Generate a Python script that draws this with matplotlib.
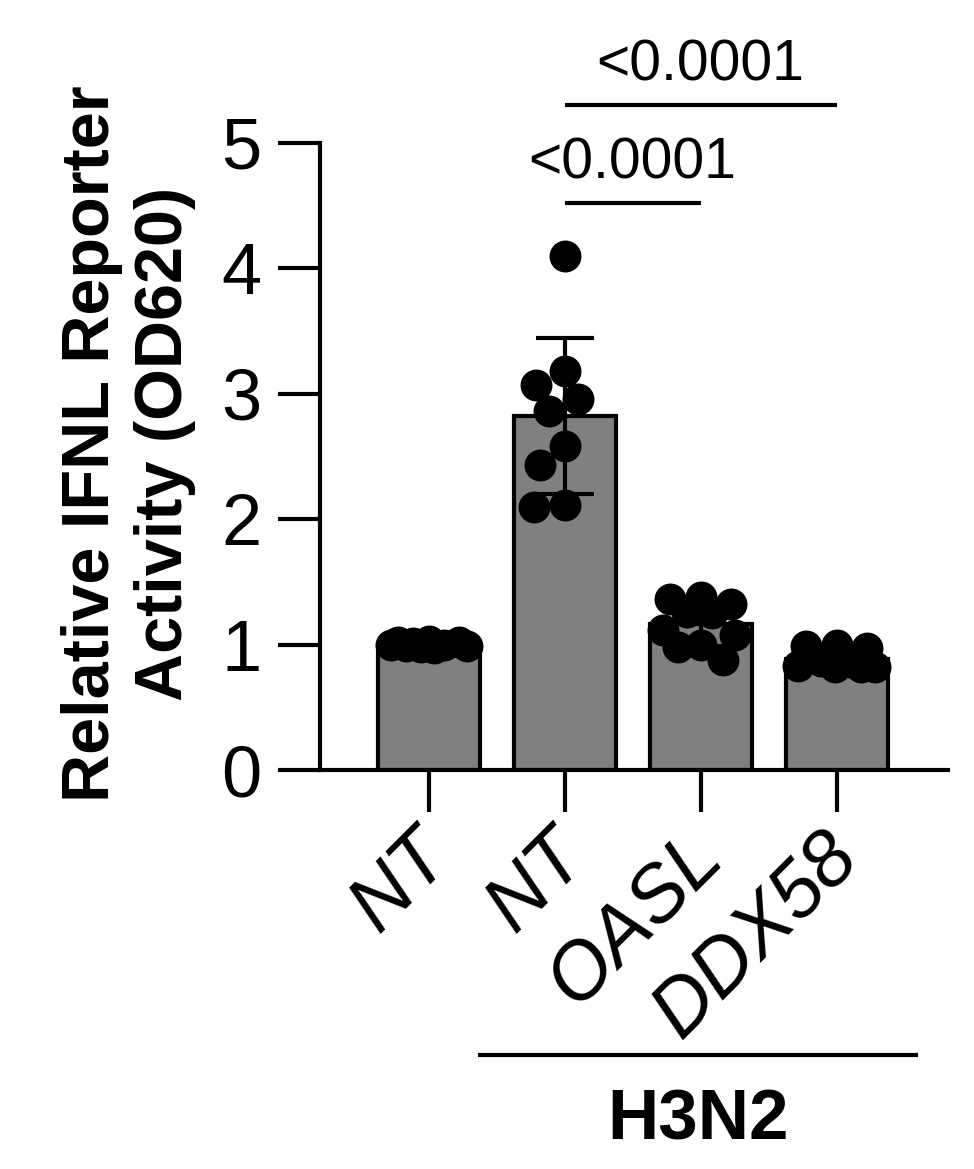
import numpy as np
import matplotlib
matplotlib.use("Agg")
import matplotlib.pyplot as plt
from matplotlib.transforms import ScaledTranslation

plt.rcParams["font.family"] = ["Liberation Sans", "DejaVu Sans"]

# Groups and replicate values
groups = ["NT", "NT", "OASL", "DDX58"]
nt_mock = [1.02, 1.00, 1.03, 0.99, 1.01, 0.98, 1.02, 0.97, 1.00, 0.99]
nt_h3n2 = [4.10, 3.18, 3.07, 2.96, 2.86, 2.58, 2.43, 2.10, 2.11]
oasl_h3n2 = [1.36, 1.38, 1.32, 1.26, 1.25, 1.12, 1.08, 0.98, 0.88, 1.00]
ddx58_h3n2 = [1.00, 0.99, 0.97, 0.86, 0.83, 0.82, 0.82, 0.87, 0.82]
replicates = [nt_mock, nt_h3n2, oasl_h3n2, ddx58_h3n2]

# pairwise comparisons (group index a, group index b, p value label)
comparisons = [(1, 2, "<0.0001"), (1, 3, "<0.0001")]
infection_label = "H3N2"
infected_groups = [1, 2, 3]

ylabel = "Relative IFNL Reporter\nActivity (OD620)"
yticks = [0, 1, 2, 3, 4, 5]


def swarm_offsets(values, px_x, px_y, diam, max_off):
    # simple beeswarm: put each dot as close to the centre as possible
    cands = np.linspace(-max_off, max_off, 41)
    cands = cands[np.argsort(np.abs(cands), kind="stable")]
    placed = []
    offs = np.zeros(len(values))
    for i in np.argsort(values)[::-1]:
        best, best_d = 0.0, -1
        for c in cands:
            if not placed:
                best = c
                break
            d = min(np.hypot((c - px) * px_x, (values[i] - py) * px_y) for px, py in placed)
            if d >= diam:
                best = c
                break
            if d > best_d:
                best, best_d = c, d
        offs[i] = best
        placed.append((best, values[i]))
    return offs


def main():
    fig = plt.figure(figsize=(9.74, 11.69), dpi=100)
    ax = fig.add_axes([0.3285, 0.3413, 0.6448, 0.5364])

    lw = 3.0
    x = np.arange(len(groups))
    means = [np.mean(v) for v in replicates]
    sds = [np.std(v, ddof=1) for v in replicates]

    ax.bar(x, means, width=0.75, color="#808080", edgecolor="black",
           linewidth=lw, zorder=1)
    ax.errorbar(x, means, yerr=sds, fmt="none", ecolor="black",
                elinewidth=lw, capsize=21, capthick=lw, zorder=2)

    for i, vals in enumerate(replicates):
        vals = np.array(vals)
        offs = swarm_offsets(vals, 135.7, 125.4, 30, 0.28)
        ax.plot(x[i] + offs, vals, "o", color="black", markersize=23,
                markeredgewidth=0, zorder=3, clip_on=False)

    ax.set_xlim(-0.80, 3.82)
    ax.set_ylim(0, 5)
    ax.set_yticks(yticks)
    ax.set_xticks(x)
    ax.set_xticklabels([])
    ax.tick_params(axis="y", labelsize=52, length=30, width=lw, pad=12)
    ax.tick_params(axis="x", length=30, width=lw)
    for s in ["top", "right"]:
        ax.spines[s].set_visible(False)
    for s in ["left", "bottom"]:
        ax.spines[s].set_linewidth(lw)

    # rotated italic group labels under the ticks
    shift = ScaledTranslation(0.10, -0.75, fig.dpi_scale_trans)
    for xi, g in zip(x, groups):
        ax.text(xi, 0, g, transform=ax.get_xaxis_transform() + shift,
                rotation=45, ha="right", va="center", rotation_mode="anchor",
                fontstyle="italic", fontsize=57)

    ax.set_ylabel(ylabel, fontsize=48, fontweight="bold", linespacing=1.22)
    ax.yaxis.set_label_coords(-0.198, 0.52)

    # significance brackets
    for (a, b, p), yb in zip(comparisons, [4.52, 5.30]):
        ax.plot([a, b], [yb, yb], color="black", lw=lw, clip_on=False,
                solid_capstyle="butt")
        ax.text((a + b) / 2, yb + 0.2, p, ha="center", va="baseline",
                fontsize=41)

    # infection group line
    x0, x1 = infected_groups[0] - 0.64, infected_groups[-1] + 0.60
    ax.plot([x0, x1], [-2.27, -2.27], color="black", lw=lw, clip_on=False,
            solid_capstyle="butt")
    ax.text((x0 + x1) / 2, -2.95, infection_label, ha="center",
            va="baseline", fontsize=51, fontweight="bold")

    fig.savefig("out.png", dpi=100)


if __name__ == "__main__":
    main()
